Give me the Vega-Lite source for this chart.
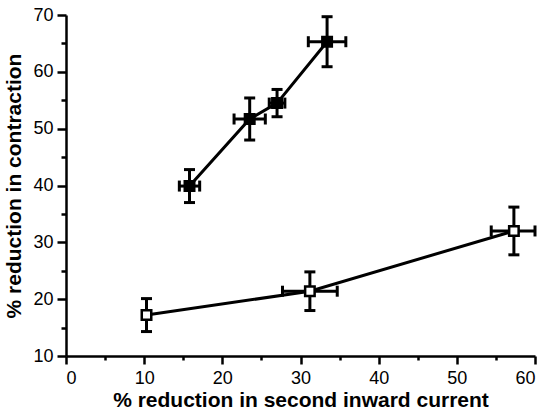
{
  "$schema": "https://vega.github.io/schema/vega-lite/v6.json",
  "autosize": {"type": "none"},
  "width": 469,
  "height": 341,
  "padding": {"left": 66, "top": 15, "right": 10, "bottom": 58},
  "background": "white",
  "config": {
    "view": {"stroke": null},
    "axis": {
      "domainColor": "black",
      "domainWidth": 2.5,
      "tickColor": "black",
      "tickWidth": 2.5,
      "grid": false,
      "labelFont": "Liberation Sans",
      "labelFontSize": 18,
      "labelColor": "black",
      "titleFont": "Liberation Sans",
      "titleFontSize": 21,
      "titleFontWeight": "bold",
      "titleColor": "black",
      "labelOverlap": false
    }
  },
  "resolve": {"axis": {"x": "independent", "y": "independent"}},
  "data": {
    "values": [
      {"s": "filled", "x": 15.8, "y": 39.9, "xlo": 14.5, "xhi": 17.1, "ylo": 37.0, "yhi": 42.8},
      {"s": "filled", "x": 23.5, "y": 51.7, "xlo": 21.5, "xhi": 25.5, "ylo": 48.0, "yhi": 55.4},
      {"s": "filled", "x": 27.0, "y": 54.5, "xlo": 26.0, "xhi": 28.0, "ylo": 52.1, "yhi": 56.9},
      {"s": "filled", "x": 33.4, "y": 65.3, "xlo": 31.0, "xhi": 35.8, "ylo": 60.9, "yhi": 69.7},
      {"s": "open", "x": 10.3, "y": 17.2, "xlo": 9.8, "xhi": 10.8, "ylo": 14.3, "yhi": 20.1},
      {"s": "open", "x": 31.2, "y": 21.4, "xlo": 27.7, "xhi": 34.7, "ylo": 18.0, "yhi": 24.8},
      {"s": "open", "x": 57.3, "y": 32.0, "xlo": 54.4, "xhi": 60.0, "ylo": 27.8, "yhi": 36.2}
    ]
  },
  "layer": [
    {
      "mark": {"type": "line", "color": "black", "strokeWidth": 3},
      "encoding": {
        "x": {
          "field": "x", "type": "quantitative",
          "title": "% reduction in second inward current",
          "scale": {"domain": [0, 60], "nice": false, "zero": false},
          "axis": {
            "orient": "bottom",
            "values": [0, 10, 20, 30, 40, 50, 60],
            "tickSize": 8,
            "labelPadding": 5,
            "titlePadding": 2
          }
        },
        "y": {
          "field": "y", "type": "quantitative",
          "title": "% reduction in contraction",
          "scale": {"domain": [10, 70], "nice": false, "zero": false},
          "axis": {
            "orient": "left",
            "values": [10, 20, 30, 40, 50, 60, 70],
            "tickSize": 9,
            "labelPadding": 4,
            "titlePadding": 8
          }
        },
        "detail": {"field": "s", "type": "nominal"}
      }
    },
    {
      "mark": {"type": "rule", "color": "black", "strokeWidth": 3},
      "encoding": {
        "x": {"field": "x", "type": "quantitative", "axis": null},
        "y": {"field": "ylo", "type": "quantitative", "axis": null},
        "y2": {"field": "yhi"}
      }
    },
    {
      "mark": {"type": "rule", "color": "black", "strokeWidth": 3},
      "encoding": {
        "y": {"field": "y", "type": "quantitative", "axis": null},
        "x": {"field": "xlo", "type": "quantitative", "axis": null},
        "x2": {"field": "xhi"}
      }
    },
    {
      "mark": {"type": "tick", "orient": "horizontal", "color": "black", "size": 11, "thickness": 3, "opacity": 1},
      "encoding": {
        "x": {"field": "x", "type": "quantitative", "axis": null},
        "y": {"field": "yhi", "type": "quantitative", "axis": null}
      }
    },
    {
      "mark": {"type": "tick", "orient": "horizontal", "color": "black", "size": 11, "thickness": 3, "opacity": 1},
      "encoding": {
        "x": {"field": "x", "type": "quantitative", "axis": null},
        "y": {"field": "ylo", "type": "quantitative", "axis": null}
      }
    },
    {
      "mark": {"type": "tick", "orient": "vertical", "color": "black", "size": 11, "thickness": 3, "opacity": 1},
      "encoding": {
        "x": {"field": "xlo", "type": "quantitative", "axis": null},
        "y": {"field": "y", "type": "quantitative", "axis": null}
      }
    },
    {
      "mark": {"type": "tick", "orient": "vertical", "color": "black", "size": 11, "thickness": 3, "opacity": 1},
      "encoding": {
        "x": {"field": "xhi", "type": "quantitative", "axis": null},
        "y": {"field": "y", "type": "quantitative", "axis": null}
      }
    },
    {
      "mark": {"type": "point", "shape": "square", "size": 90, "strokeWidth": 2.5, "opacity": 1, "filled": true},
      "encoding": {
        "x": {"field": "x", "type": "quantitative",
          "axis": {"orient": "bottom", "values": [5, 15, 25, 35, 45, 55], "labels": false, "title": null, "domain": false, "tickSize": 4}},
        "y": {"field": "y", "type": "quantitative",
          "axis": {"orient": "left", "values": [15, 25, 35, 45, 55, 65], "labels": false, "title": null, "domain": false, "tickSize": 5}},
        "fill": {"field": "s", "type": "nominal", "scale": {"domain": ["filled", "open"], "range": ["black", "white"]}, "legend": null},
        "stroke": {"value": "black"}
      }
    }
  ]
}
